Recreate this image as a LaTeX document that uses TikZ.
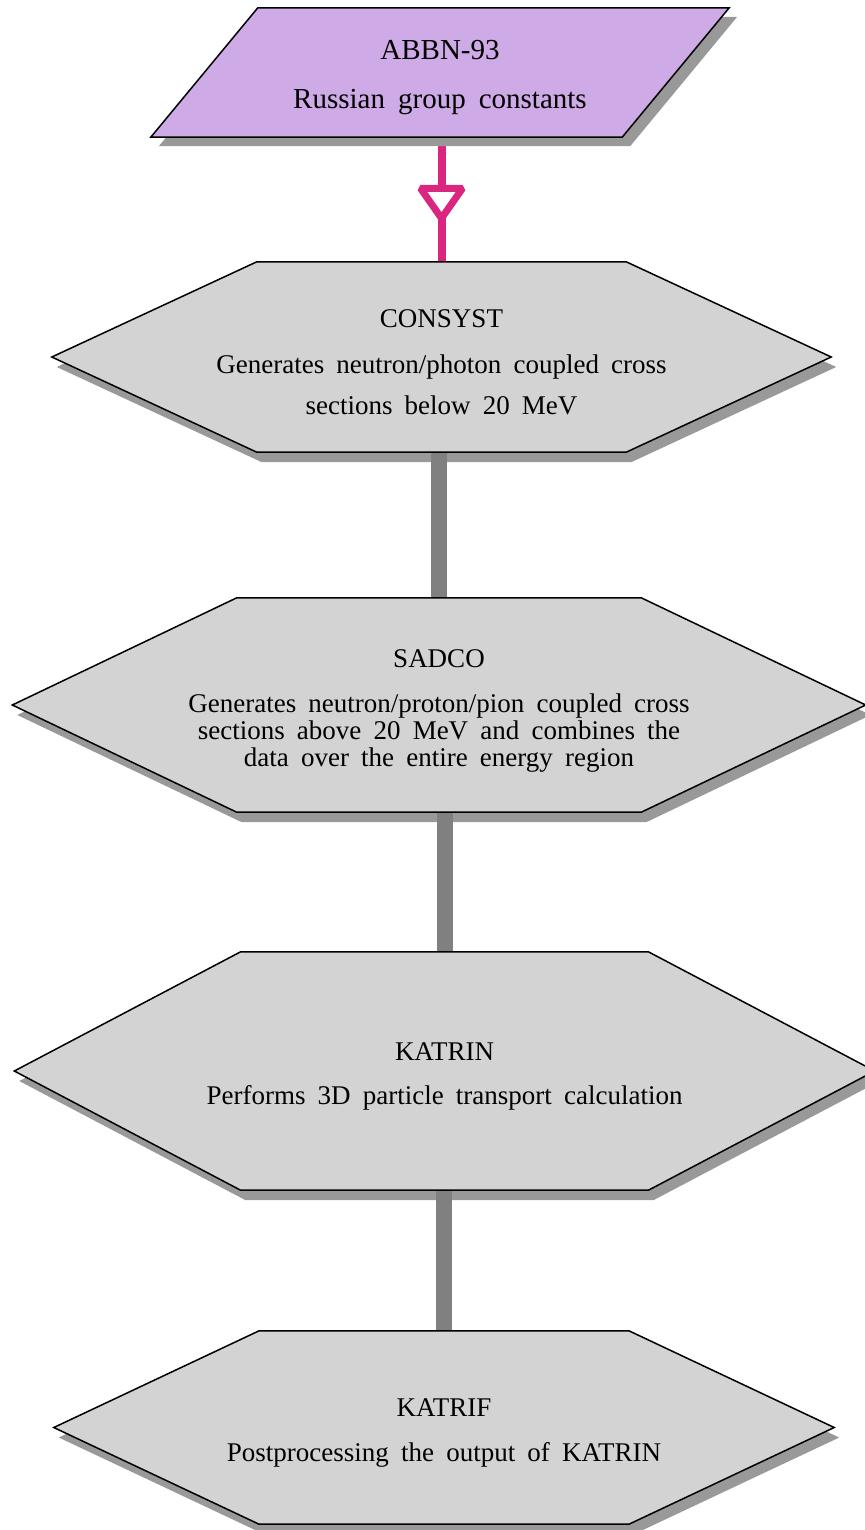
\documentclass[tikz,border=0pt]{standalone}
\usepackage{fontspec}
\setmainfont{Liberation Serif}[WordSpace=1.8]
\usetikzlibrary{calc,backgrounds}
\definecolor{lilac}{RGB}{206,170,230}
\definecolor{hexgray}{RGB}{211,211,211}
\definecolor{shadowgray}{RGB}{153,153,153}
\definecolor{linkgray}{RGB}{128,128,128}
\definecolor{feedpink}{RGB}{218,38,126}
% outlines of the boxes, #1 node name, #2 offset
\newcommand\hexpath[2]{($(#1.west)+#2$) -- ($(#1.north west)!.263!(#1.north east)+#2$)
  -- ($(#1.north west)!.737!(#1.north east)+#2$) -- ($(#1.east)+#2$)
  -- ($(#1.south west)!.737!(#1.south east)+#2$) -- ($(#1.south west)!.263!(#1.south east)+#2$) -- cycle}
\newcommand\slantpath[2]{($(#1.south west)+#2$) -- ($(#1.north west)+(107,0)+#2$)
  -- ($(#1.north east)+#2$) -- ($(#1.south east)+(-107,0)+#2$) -- cycle}
\newcommand\lift{\rule{0pt}{29pt}}

\begin{document}
\begin{tikzpicture}
  [x=1pt,y=-1pt,every node/.style={inner sep=0pt,align=center,font=\fontsize{27}{27}\selectfont},
   outline/.style={draw=black,line width=1.5pt},
   dropshade/.style={fill=shadowgray},
   link/.style={linkgray,line width=16pt},
   feed/.style={feedpink,line width=8pt}]
\useasboundingbox (0,0) rectangle (864,1530);

\node (abbn)[minimum width=578pt,minimum height=129pt,font=\fontsize{29}{29}\selectfont] at (440,72.5)
  {\lift ABBN-93\\[20pt]Russian group constants};
\node (consyst)[minimum width=779pt,minimum height=190pt] at (441.5,357)
  {\lift CONSYST\\[19pt]Generates neutron/photon coupled cross\\[14pt]sections below 20 MeV};
\node (sadco)[minimum width=853pt,minimum height=214pt] at (439,705)
  {\lift SADCO\\[18pt]Generates neutron/proton/pion coupled cross\\sections above 20 MeV and combines the\\data over the entire energy region};
\node (katrin)[minimum width=860pt,minimum height=238pt] at (444.5,1071)
  {\lift KATRIN\\[17pt]Performs 3D particle transport calculation};
\node (katrif)[minimum width=780pt,minimum height=193pt] at (444,1427.5)
  {\lift KATRIF\\[18pt]Postprocessing the output of KATRIN};

\begin{scope}[on background layer]
  \draw[feed] (consyst.north |- abbn.south) -- (consyst.north);
  \fill[dropshade] \slantpath{abbn}{(8,9)};
  \foreach \n in {consyst,sadco,katrin,katrif}
    \fill[dropshade] \hexpath{\n}{(5,10)};
  \foreach \from/\to in {consyst/sadco,sadco/katrin,katrin/katrif}
    \draw[link] (\to.north |- \from.south) -- (\to.north);
  \filldraw[outline,fill=lilac] \slantpath{abbn}{(0,0)};
  \foreach \n in {consyst,sadco,katrin,katrif}
    \filldraw[outline,fill=hexgray] \hexpath{\n}{(0,0)};
\end{scope}

\draw[feed,fill=white,line width=7pt,line join=bevel]
  ($(consyst.north |- abbn.south)!.41!(consyst.north)$) ++(-21,0) -- ++(42,0) -- ++(-21,30) -- cycle;

\end{tikzpicture}
\end{document}
